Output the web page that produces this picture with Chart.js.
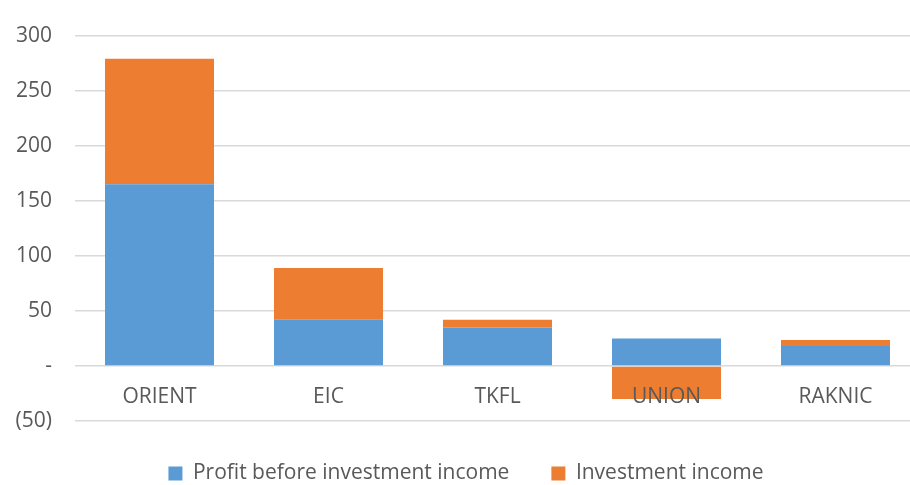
<!DOCTYPE html>
<html>
<head>
<meta charset="utf-8">
<script src="https://cdn.jsdelivr.net/npm/chart.js@4"></script>
<style>
  html, body { margin: 0; padding: 0; background: #fff; overflow: hidden; }
  /* slightly bigger than the window: the original crop cuts off the right edge */
  #wrap { width: 920px; height: 494px; position: relative; }
</style>
</head>
<body>
<div id="wrap"><canvas id="ProfitChart"></canvas></div>
<script>
const companies = ["ORIENT", "EIC", "TKFL", "UNION", "RAKNIC"];
const profitBeforeInvestment = [165, 42, 35, 25, 18];
const investmentIncome = [114, 47, 7, -30, 5.5];
const seriesNames = ["Profit before investment income", "Investment income"];

function plotProfit() {
  let ctx = document.getElementById("ProfitChart").getContext("2d");

  new Chart(ctx, {
    type: "bar",
    data: {
      labels: companies,
      datasets: [
        {
          label: seriesNames[0],
          data: profitBeforeInvestment,
          backgroundColor: "#5B9BD5",
        },
        {
          label: seriesNames[1],
          data: investmentIncome,
          backgroundColor: "#ED7D31",
        },
      ],
    },
    options: {
      responsive: true,
      maintainAspectRatio: false,
      animation: false,
      categoryPercentage: 0.645,
      barPercentage: 1,
      layout: {
        padding: { top: 35, left: 12, right: 0, bottom: 0 },
      },
      plugins: {
        tooltip: { enabled: false },
        legend: {
          position: "bottom",
          labels: {
            boxWidth: 14,
            boxHeight: 14,
            padding: 42,
            color: "#595959",
            font: { family: "Open Sans", size: 21 },
          },
        },
      },
      scales: {
        x: {
          stacked: true,
          position: { y: 0 },
          grid: { display: false, drawTicks: false },
          border: { display: false },
          ticks: {
            z: 1,
            padding: 18,
            color: "#595959",
            font: { family: "Open Sans", size: 21 },
          },
        },
        y: {
          stacked: true,
          min: -50,
          max: 300,
          afterFit: (scale) => {
            scale.width = 63;
          },
          grid: { color: "#D9D9D9", lineWidth: 1.5, drawTicks: false },
          border: { display: false },
          ticks: {
            stepSize: 50,
            padding: 23,
            color: "#595959",
            font: { family: "Open Sans", size: 21 },
            callback: (v) => (v === 0 ? "-" : v < 0 ? "(" + Math.abs(v) + ")" : v),
          },
        },
      },
    },
  });
}
plotProfit();
</script>
</body>
</html>
